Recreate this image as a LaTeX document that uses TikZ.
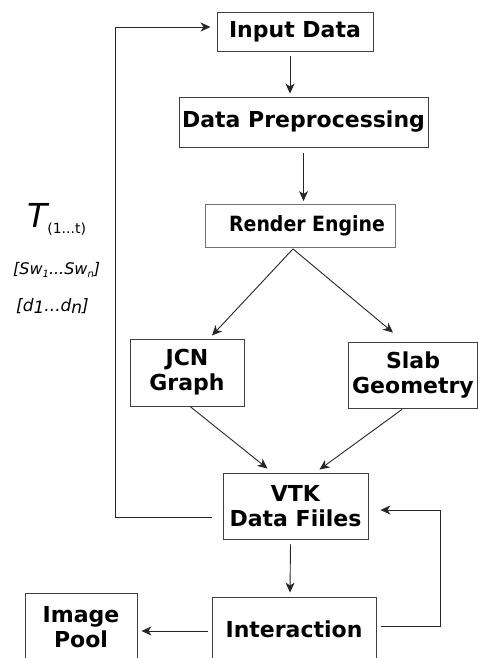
\documentclass[tikz,border=0pt]{standalone}
\usepackage{fontspec}
\setmainfont{DejaVu Sans}
\newfontfamily\condfont{DejaVu Sans Condensed}
\usetikzlibrary{arrows.meta}
\begin{document}
\begin{tikzpicture}[x=1pt,y=-1pt,
  box/.style={draw=black!75, line width=0.9pt, rectangle, inner sep=0pt, align=center,
    font=\fontsize{22}{25}\selectfont\bfseries},
  arr/.style={draw=black!85, line width=0.9pt, -{Stealth[length=10pt,width=9pt,inset=3pt]}},
  lab/.style={inner sep=0pt, anchor=center}]
\useasboundingbox[fill=white] (0,0) rectangle (478,658);
\node[box, minimum width=156pt, minimum height=39pt] (inp) at (295,31.5) {Input Data};
\node[box, minimum width=249pt, minimum height=50pt] (pre) at (303.5,122) {Data Preprocessing};
\node[box, draw=black!55, minimum width=190pt, minimum height=43pt, font=\fontsize{21}{25}\selectfont\condfont\bfseries] (ren) at (300,226) {\hspace{14pt}Render Engine};
\node[box, minimum width=114pt, minimum height=67pt] (jcn) at (187,372.5) {JCN\\Graph};
\node[box, minimum width=129pt, minimum height=66pt] (slab) at (413,375) {Slab\\Geometry};
\node[box, minimum width=145pt, minimum height=66pt] (vtk) at (295.5,506) {VTK\\Data Fiiles};
\node[box, minimum width=164pt, minimum height=64pt] (int) at (294,629) {Interaction};
\node[box, minimum width=112pt, minimum height=68pt] (img) at (81,627) {Image\\Pool};

\node[lab, anchor=base west] (tlab) at (27,227) {\fontsize{33}{33}\selectfont\itshape T\raisebox{-6pt}{\fontsize{14}{14}\selectfont\upshape (1...t)}};
\node[lab, anchor=base west] (swlab) at (13,274) {\fontsize{16}{16}\selectfont\itshape [Sw\raisebox{-3pt}{\fontsize{10}{10}\selectfont 1}...Sw\raisebox{-3pt}{\fontsize{10}{10}\selectfont n}]};
\node[lab, anchor=base west] (dlab) at (16,311) {\fontsize{17}{17}\selectfont\itshape [d\raisebox{-2.5pt}{1}...d\raisebox{-2.5pt}{n}]};

\draw[arr] (inp.south) ++(-5,5) coordinate (a1) -- (a1 |- pre.north) [shorten >=3pt];
\draw[arr] ([yshift=-6pt]pre.south) -- ([yshift=3pt]ren.north -| pre.south);
\draw[arr] ([xshift=-7pt,yshift=-1pt]ren.south) -- ([xshift=25pt,yshift=3pt]jcn.north);
\draw[arr] ([xshift=-7pt,yshift=-1pt]ren.south) -- ([xshift=-20pt,yshift=9pt]slab.north);
\draw[arr] ([xshift=3pt]jcn.south) -- ([xshift=-28pt,yshift=4pt]vtk.north);
\draw[arr] ([xshift=-11pt,yshift=-1pt]slab.south) -- ([xshift=24pt,yshift=3pt]vtk.north);
\coordinate (fbL) at (115,517);
\draw[arr] ([xshift=-11pt,yshift=-11pt]vtk.west) -- (fbL) |- ([xshift=-6pt,yshift=4.5pt]inp.west);
\draw[arr] ([xshift=-5pt,yshift=-5pt]vtk.south) -- ([xshift=-4pt,yshift=4pt]int.north);
\coordinate (fbR) at (440,626);
\draw[arr] ([xshift=5pt,yshift=3pt]int.east) -- (fbR) |- ([xshift=12pt,yshift=-4pt]vtk.east);
\draw[arr] ([xshift=-4pt,yshift=-2pt]int.west) -- ([xshift=4pt,yshift=-4pt]img.east);
\end{tikzpicture}
\end{document}
